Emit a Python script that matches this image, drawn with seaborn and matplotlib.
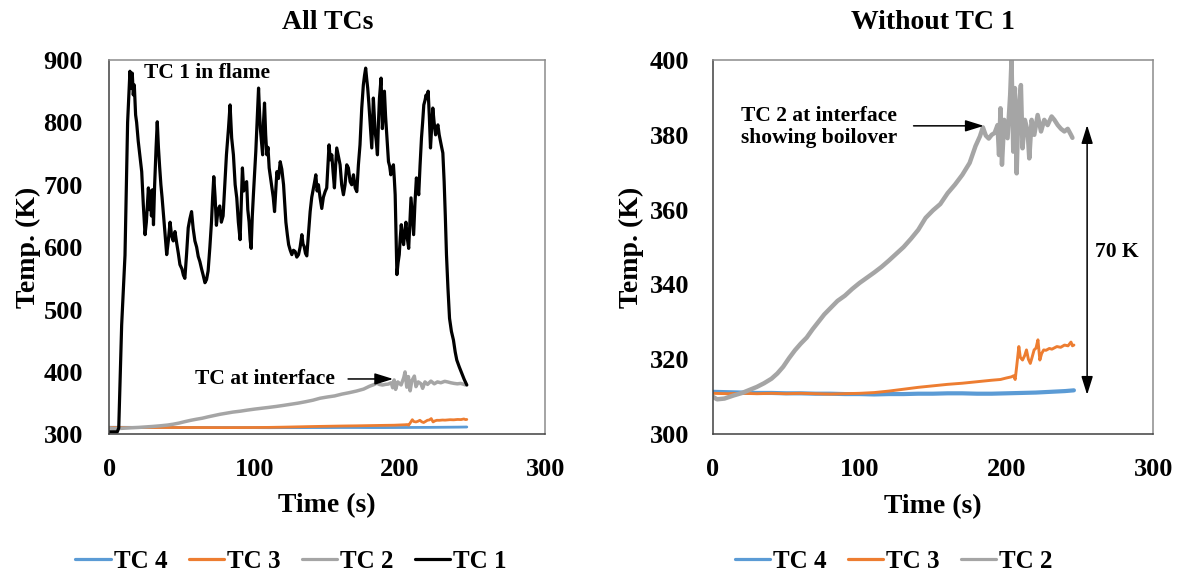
import matplotlib
matplotlib.use("Agg")
import matplotlib.pyplot as plt
import seaborn as sns
from matplotlib.lines import Line2D

# ---------------- thermocouple readings ----------------
tc1_time = [0, 5.5, 6.5, 8.5, 10.8, 12.6, 13.6, 14.2, 14.9, 15.8, 16.5, 17.2, 18.1, 18.8, 19.9,
            21.1, 22.3, 23.4, 24.6, 25.5, 26.9, 27.6, 28.3, 29, 29.7, 30.4, 31.2, 32.2, 33, 33.8,
            34.6, 35.5, 36.3, 37.2, 38.4, 39.5, 40.6, 41.8, 42.9, 44, 45.2, 46.4, 47.5, 48.6, 50,
            51, 52, 53.2, 54.3, 55.4, 56.6, 57.7, 58.9, 60.1, 61.2, 62.3, 63.5, 64.6, 65.8, 66.9,
            68, 69.2, 70.3, 71.1, 71.9, 72.8, 73.7, 74.8, 76, 77.1, 78.3, 79.5, 80.6, 82, 83.1,
            84.2, 85.4, 86.6, 87.7, 88.8, 90, 91.6, 92.5, 93.4, 94.5, 95.3, 96.2, 96.9, 97.6, 98.4,
            99.2, 100.8, 101.7, 102.7, 103.3, 103.9, 104.7, 105.5, 106.1, 106.8, 107.6, 108.4, 109.2,
            110, 111, 111.9, 112.8, 113.7, 114.5, 115.3, 116.4, 117.6, 118.7, 119.9, 120.7, 121.5,
            122.5, 123.4, 124.5, 125.6, 126.7, 127.9, 129, 130.2, 131.3, 132.5, 133.3, 134.1, 135,
            135.9, 137, 138.2, 139.3, 140.5, 141.3, 142.1, 143, 143.9, 145, 146.2, 147.3, 148.5,
            149.6, 150.4, 151.2, 152.1, 153.1, 154, 154.9, 155.7, 156.5, 157.7, 158.8, 159.9, 161.1,
            162.2, 163.4, 164.5, 165.7, 166.8, 168, 169.2, 170.3, 171.4, 172.5, 173.7, 174.8, 175.6,
            176.4, 177.1, 177.8, 178.6, 179.4, 180.6, 181.7, 182.9, 183.7, 184.5, 185.2, 185.9, 187,
            187.9, 188.6, 189.3, 190.1, 190.9, 192.1, 192.9, 193.7, 194.6, 195.5, 196.1, 196.7,
            197.3, 197.9, 198.7, 199.5, 200.2, 200.9, 201.7, 202.5, 203.3, 204.1, 205, 206, 206.8,
            207.6, 208.5, 209.4, 210.3, 211.3, 212.1, 212.9, 213.8, 214.8, 215.6, 216.4, 217.2, 218,
            218.7, 219.4, 220.2, 221, 221.8, 222.6, 223.5, 224.5, 225.3, 226.1, 227, 227.9, 228.7,
            229.5, 230.4, 231.2, 232, 233, 234.1, 235.4, 236.8, 238, 239.1, 240.8, 242.5, 244.2, 246]
tc1_temp = [304, 304, 310, 475, 587, 800, 850, 882, 855, 879, 844, 860, 812, 800, 770,
            745, 721, 668, 620, 640, 695, 660, 690, 650, 692, 636, 700, 760, 801, 760,
            730, 700, 680, 655, 620, 588, 610, 640, 618, 610, 625, 606, 590, 572, 565,
            555, 550, 590, 631, 645, 657, 630, 610, 600, 585, 577, 565, 555, 543, 548,
            562, 600, 640, 680, 713, 680, 635, 660, 666, 640, 650, 700, 748, 790, 828,
            775, 748, 700, 679, 640, 612, 727, 690, 700, 705, 660, 640, 612, 598, 650,
            686, 753, 800, 855, 820, 791, 770, 748, 800, 831, 780, 748, 760,
            727, 710, 695, 680, 657, 690, 721, 710, 737, 725, 700, 670, 640,
            620, 604, 595, 588, 595, 593, 584, 588, 600, 620, 605, 601, 590,
            586, 620, 657, 680, 695, 705, 716, 690, 700, 680, 662, 680, 689,
            695, 730, 764, 740, 748, 720, 695, 730, 759, 745, 732, 700, 684,
            700, 732, 727, 705, 700, 716, 695, 689, 732, 764, 823, 860, 875,
            887, 870, 855, 830, 801, 759, 839, 785, 770, 748, 800, 839, 871,
            790, 820, 850, 810, 780, 737, 730, 716, 725, 732, 710, 684,
            620, 556, 575, 588, 615, 636, 615, 604, 625, 640, 615, 598, 640,
            679, 650, 620, 670, 711, 700, 684, 730, 775, 800, 828, 835, 844,
            838, 850, 810, 759, 790, 823, 800, 780, 790, 796, 780, 769, 760,
            751, 705, 650, 588, 535, 486, 465, 451, 432, 419, 408, 398, 388, 379]

tc2_time = [0, 3, 8, 14, 20, 25, 30, 35, 40, 44, 48, 52, 56, 60, 64, 68, 72, 76, 80, 85, 90, 95,
            100, 105, 110, 115, 120, 125, 130, 135, 140, 145, 150, 155, 160, 165, 170, 175, 179,
            182, 184, 186, 188, 190, 192, 194, 195, 196, 197, 198.5, 200.8, 202.6, 203.5, 204.7,
            205.8, 207, 208.1, 209.9, 211, 212.6, 214.5, 215.6, 217.2, 219, 221.3, 223.6, 225.8,
            228.1, 230.8, 232.7, 235, 237.2, 239.5, 241.8, 244, 245]
tc2_temp = [310.0, 309.3, 309.5, 310.3, 311.0, 311.8, 312.6, 313.6, 314.8, 316.2, 318.0, 320.3,
            322.4, 324.2, 325.8, 328.0, 330.0, 332.0, 333.6, 335.6, 337.0, 338.8, 340.4, 341.8,
            343.2, 344.7, 346.4, 348.2, 350.0, 352.2, 354.6, 357.8, 359.8, 361.5, 364.4, 366.7,
            369.3, 372.5, 377.0, 379.6, 382.0, 379.8, 379.0, 380.0, 380.5, 382.6, 374.6, 387.1,
            372.0, 384.0, 379.1, 390.7, 400.0, 375.5, 392.5, 369.7, 385.3, 393.3, 376.4, 384.0,
            380.9, 373.7, 384.0, 380.0, 385.3, 380.9, 384.0, 382.6, 384.9, 384.0, 382.6, 381.6,
            380.9, 381.6, 380.0, 379.2]

tc3_time = [0, 10, 20, 30, 40, 50, 60, 70, 80, 90, 100, 110, 120, 130, 140, 150, 160, 170, 180,
            190, 196, 200, 203.4, 205, 206, 207, 208.5, 209.5, 211, 212.5, 213.7, 215, 216.3,
            217.5, 218.9, 220.2, 221.5, 222.8, 224, 225.4, 227, 229.3, 231, 234.4, 237, 239.6,
            242, 244, 245, 246]
tc3_temp = [310.9, 310.8, 310.9, 310.8, 310.9, 310.8, 310.9, 310.8, 310.7, 310.8, 310.9, 311.1,
            311.5, 312.0, 312.5, 312.9, 313.3, 313.6, 314.0, 314.4, 314.6, 315.0, 315.3, 315.6,
            314.6, 318.0, 323.4, 320.5, 319.8, 321.0, 322.5, 320.0, 318.9, 320.5, 322.5, 323.0,
            325.2, 319.8, 321.5, 322.5, 322.4, 322.9, 322.7, 323.4, 323.2, 323.8, 323.6, 324.6,
            323.6, 323.8]

tc4_time = [0, 10, 20, 30, 40, 50, 60, 70, 80, 90, 100, 110, 120, 130, 140, 150, 160, 170, 180,
            190, 200, 210, 220, 230, 240, 246]
tc4_temp = [311.3, 311.2, 311.1, 311.0, 311.0, 310.9, 310.9, 310.8, 310.8, 310.7, 310.7, 310.6,
            310.7, 310.7, 310.8, 310.8, 310.9, 310.9, 310.8, 310.8, 310.9, 311.0, 311.1, 311.3,
            311.5, 311.7]

series_names = ["TC 4", "TC 3", "TC 2", "TC 1"]
series_colors = {"TC 4": "#5B9BD5", "TC 3": "#ED7D31", "TC 2": "#A5A5A5", "TC 1": "#000000"}
x_ticks = [0, 100, 200, 300]
left_y_ticks = [300, 400, 500, 600, 700, 800, 900]
right_y_ticks = [300, 320, 340, 360, 380, 400]

series_data = {
    "TC 4": (tc4_time, tc4_temp),
    "TC 3": (tc3_time, tc3_temp),
    "TC 2": (tc2_time, tc2_temp),
    "TC 1": (tc1_time, tc1_temp),
}

# ---------------- style ----------------
sns.set_style("white")
plt.rcParams["font.family"] = ["Liberation Serif", "DejaVu Serif"]
plt.rcParams["font.weight"] = "bold"
plt.rcParams["axes.labelweight"] = "bold"
plt.rcParams["axes.titleweight"] = "bold"
plt.rcParams["text.color"] = "black"
plt.rcParams["axes.labelcolor"] = "black"
plt.rcParams["xtick.labelcolor"] = "black"
plt.rcParams["ytick.labelcolor"] = "black"

fig = plt.figure(figsize=(11.8, 5.74), dpi=100)
W, H = 1180, 574
ax_l = fig.add_axes([109.3 / W, 1 - 434.3 / H, 436.0 / W, 374.3 / H])
ax_r = fig.add_axes([712.7 / W, 1 - 434.1 / H, 440.5 / W, 374.1 / H])

left_widths = {"TC 4": 2.0, "TC 3": 2.0, "TC 2": 2.5, "TC 1": 2.3}
right_widths = {"TC 4": 3.0, "TC 3": 2.1, "TC 2": 3.2}

for name in series_names:
    t, v = series_data[name]
    sns.lineplot(x=t, y=v, ax=ax_l, color=series_colors[name], linewidth=left_widths[name],
                 estimator=None, sort=False, legend=False)
for name in series_names[:3]:
    t, v = series_data[name]
    sns.lineplot(x=t, y=v, ax=ax_r, color=series_colors[name], linewidth=right_widths[name],
                 estimator=None, sort=False, legend=False)


def style_axes(ax, yticks, direction, ypad, xpad, tick_len):
    ax.set_xlim(0, 300)
    ax.set_ylim(yticks[0], yticks[-1])
    ax.set_xticks(x_ticks)
    ax.set_yticks(yticks)
    ax.tick_params(axis="both", direction=direction, length=tick_len, width=1,
                   color="#404040", labelsize=19, labelcolor="black")
    ax.tick_params(axis="y", pad=ypad)
    ax.tick_params(axis="x", pad=xpad)
    for side in ("left", "bottom"):
        ax.spines[side].set_color("#404040")
        ax.spines[side].set_linewidth(1.1)
    for side in ("top", "right"):
        ax.spines[side].set_color("#8c8c8c")
        ax.spines[side].set_linewidth(1.1)
    for lab in ax.get_xticklabels() + ax.get_yticklabels():
        lab.set_fontweight("bold")
    ax.set_xlabel("Time (s)", fontsize=20, fontweight="bold", labelpad=9, color="black")


style_axes(ax_l, left_y_ticks, "out", 14, 12, 5)
style_axes(ax_r, right_y_ticks, "in", 17, 17.5, 6.5)
ax_l.set_ylabel("Temp. (K)", fontsize=20, fontweight="bold", labelpad=2, color="black")
ax_r.set_ylabel("Temp. (K)", fontsize=20, fontweight="bold", labelpad=4, color="black")

ax_l.set_title("All TCs", fontsize=20, fontweight="bold", pad=22, color="black")
ax_r.set_title("Without TC 1", fontsize=20, fontweight="bold", pad=22, color="black")

# ---------------- annotations ----------------
arrow_kw = dict(arrowstyle="-|>,head_length=0.8,head_width=0.25", color="black",
                lw=1.1, mutation_scale=14, shrinkA=0, shrinkB=0)

ax_l.text(24.2, 879, "TC 1 in flame", fontsize=15.5, fontweight="bold", ha="left", va="center")
ax_l.text(58.7, 388.7, "TC at interface", fontsize=15.5, fontweight="bold", ha="left", va="center")
ax_l.annotate("", xy=(195.3, 388.7), xytext=(164.3, 388.7), arrowprops=arrow_kw)

ax_r.text(19.5, 382.1, "TC 2 at interface\nshowing boilover", fontsize=15.5, fontweight="bold",
          ha="left", va="center", linespacing=1.15)
ax_r.annotate("", xy=(184.6, 382.4), xytext=(136.8, 382.4), arrowprops=arrow_kw)
ax_r.annotate("", xy=(255, 382.6), xytext=(255, 310.5),
              arrowprops=dict(arrowstyle="<|-|>,head_length=0.8,head_width=0.25", color="black",
                              lw=1.1, mutation_scale=14, shrinkA=0, shrinkB=0))
ax_r.text(260.4, 348.6, "70 K", fontsize=15.5, fontweight="bold", ha="left", va="center")

# ---------------- legends ----------------
def legend_handles(names):
    return [Line2D([0], [0], color=series_colors[n], lw=2.3) for n in names]


leg_kw = dict(loc="center", ncol=4, frameon=False, fontsize=18, handlelength=1.42,
              handletextpad=0.12, columnspacing=0.84, borderaxespad=0, borderpad=0,
              labelcolor="black")
fig.legend(legend_handles(series_names), series_names,
           bbox_to_anchor=(291 / W, 1 - 561.5 / H), **leg_kw)
fig.legend(legend_handles(series_names[:3]), series_names[:3],
           bbox_to_anchor=(893.6 / W, 1 - 561.5 / H), **leg_kw)

fig.savefig("out.png", dpi=100)
